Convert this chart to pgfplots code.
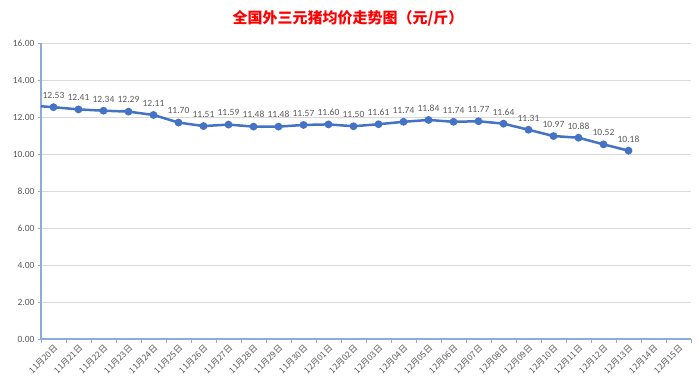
\documentclass[border=0pt]{standalone}
\usepackage{pgfplots}
\pgfplotsset{compat=1.18}
\usepackage{fontspec}
\setmainfont{Carlito}
\newfontfamily\cjk{Noto Sans CJK SC}
\definecolor{lineblue}{HTML}{4472C4}
\definecolor{axisblue}{HTML}{8FAADC}
\definecolor{gridgray}{HTML}{D9D9D9}
\definecolor{ticktext}{HTML}{595959}
\definecolor{labeltext}{HTML}{595959}
\begin{document}
\begin{tikzpicture}
\useasboundingbox (0,0) rectangle (700pt,388pt);
\node[font=\cjk\bfseries\fontsize{15}{18}\selectfont, text=red] at (348pt,370pt) {全国外三元猪均价走势图（元/斤）};
\begin{axis}[
  at={(41pt,49pt)}, anchor=south west,
  scale only axis, width=650pt, height=296pt,
  xmin=-0.5, xmax=25.5, ymin=0, ymax=16,
  axis x line*=bottom, axis y line*=left,
  axis line style={axisblue, line width=1.3pt, -},
  xtick={0,...,25},
  xticklabels={11月20日,11月21日,11月22日,11月23日,11月24日,11月25日,11月26日,11月27日,11月28日,11月29日,11月30日,12月01日,12月02日,12月03日,12月04日,12月05日,12月06日,12月07日,12月08日,12月09日,12月10日,12月11日,12月12日,12月13日,12月14日,12月15日},
  xticklabel style={font=\cjk\fontsize{8.5}{9}\selectfont, text=ticktext, rotate=45, anchor=east, xshift=2pt, yshift=-5pt},
  major x tick style={draw=none},
  minor xtick={-0.5,0.5,...,25.5},
  minor tick length=4pt,
  minor x tick style={axisblue, line width=1pt},
  tick align=outside,
  ytick={0,2,...,16},
  major tick length=3pt,
  y tick style={axisblue, line width=0.8pt},
  yticklabel style={font=\fontsize{9.5}{10}\selectfont, text=ticktext, /pgf/number format/.cd, fixed, fixed zerofill, precision=2, assume math mode=true},
  ymajorgrids,
  grid style={gridgray, line width=0.8pt},
  clip=false,
]
\addplot[color=lineblue, line width=2.5pt, forget plot] coordinates {(-0.5,12.58) (0,12.53)};
\addplot[color=lineblue, line width=2.5pt, mark=*, mark size=2.6pt,
  nodes near coords={\pgfmathprintnumber[fixed, fixed zerofill, precision=2, assume math mode=true]{\pgfplotspointmeta}},
  every node near coord/.append style={font=\fontsize{9.5}{10}\selectfont, text=labeltext, yshift=4pt}]
coordinates {
(0,12.53) (1,12.41) (2,12.34) (3,12.29) (4,12.11) (5,11.70) (6,11.51) (7,11.59)
(8,11.48) (9,11.48) (10,11.57) (11,11.60) (12,11.50) (13,11.61) (14,11.74) (15,11.84)
(16,11.74) (17,11.77) (18,11.64) (19,11.31) (20,10.97) (21,10.88) (22,10.52) (23,10.18)
};
\end{axis}
\end{tikzpicture}
\end{document}
